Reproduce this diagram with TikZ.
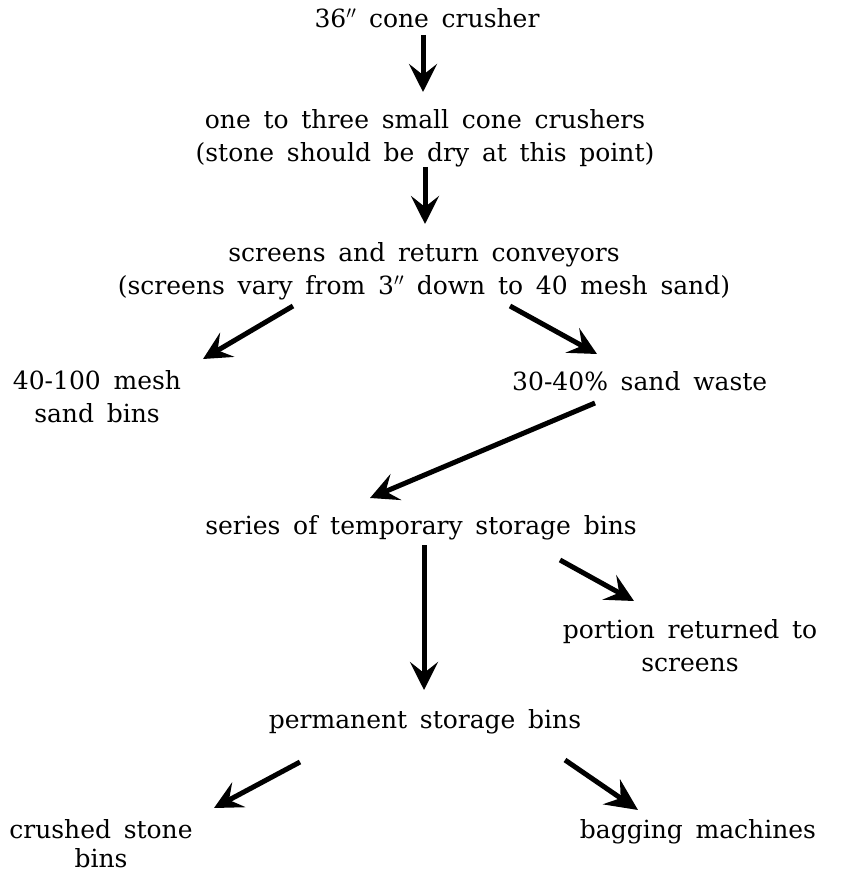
\documentclass[tikz,border=0pt]{standalone}
\usepackage{fontspec}
\setmainfont{DejaVu Serif}[WordSpace=1.6]
\usetikzlibrary{arrows.meta}
\tikzset{
  lbl/.style={inner sep=0pt, align=center, font=\fontsize{25}{33}\selectfont},
  flow/.style={line width=5pt, -{Stealth[length=28pt,width=28pt,inset=11pt]}},
  flowb/.style={line width=5pt, -{Stealth[length=32pt,width=30pt,inset=11pt]}}
}
\begin{document}
\begin{tikzpicture}[x=1pt,y=-1pt]
\useasboundingbox (0,0) rectangle (850,874);
\node[lbl] (a) at (427,18) {36$''$ cone crusher};
\node[lbl] (b) at (425,138) {one to three small cone crushers\\(stone should be dry at this point)};
\node[lbl] (c) at (424,271) {screens and return conveyors\\(screens vary from 3$''$ down to 40 mesh sand)};
\node[lbl] (d) at (97,397) {40-100 mesh\\sand bins};
\node[lbl, anchor=west] (e) at (512,381) {30-40\% sand waste};
\node[lbl] (f) at (421,528) {series of temporary storage bins};
\node[lbl] (g) at (690,646) {portion returned to\\screens};
\node[lbl] (h) at (425,722) {permanent storage bins};
\node[lbl, font=\fontsize{25}{29}\selectfont] (i) at (101,844) {crushed stone\\bins};
\node[lbl] (j) at (698,832) {bagging machines};

\coordinate (a1) at (423,35);  \coordinate (a2) at (423,92);
\coordinate (b1) at (425,167); \coordinate (b2) at (425,224);
\coordinate (c1) at (293,306); \coordinate (c2) at (203,359);
\coordinate (c3) at (510,306); \coordinate (c4) at (597,354);
\coordinate (e1) at (595,403); \coordinate (e2) at (370,498);
\coordinate (f1) at (424,545); \coordinate (f2) at (424,690);
\coordinate (f3) at (560,560); \coordinate (f4) at (634,601);
\coordinate (h1) at (300,762); \coordinate (h2) at (214,808);
\coordinate (h3) at (565,760); \coordinate (h4) at (638,810);

\draw[flow] (a1) -- (a2);
\draw[flow] (b1) -- (b2);
\draw[flow] (c1) -- (c2);
\draw[flow] (c3) -- (c4);
\draw[flow] (e1) -- (e2);
\draw[flow] (f1) -- (f2);
\draw[flow] (f3) -- (f4);
\draw[flow] (h1) -- (h2);
\draw[flowb] (h3) -- (h4);
\end{tikzpicture}
\end{document}
